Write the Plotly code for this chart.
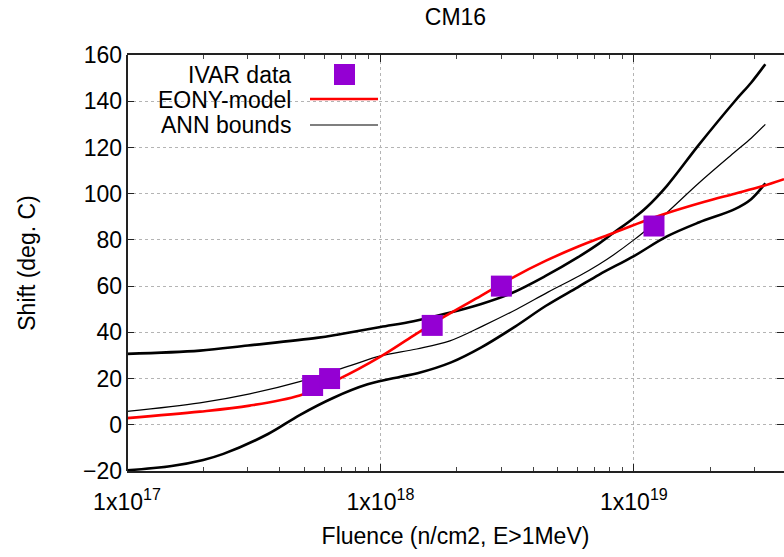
import plotly.graph_objects as go
import numpy as np

# ---- data ----
ivar_fluence = [5.4e17, 6.3e17, 1.6e18, 3.0e18, 1.2e19]
ivar_shift = [17, 20, 43, 60, 86]

eony_fluence = [1e17, 1.94e17, 3.05e17, 4.8e17, 6.9e17, 1e18, 1.35e18, 1.8e18, 2.5e18, 3.3e18,
                4.5e18, 6e18, 8.3e18, 1.12e19, 1.3e19, 1.9e19, 2.5e19, 3.2e19, 3.91e19]
eony_shift = [2.9, 5.7, 8.3, 12.7, 20.0, 29.5, 38.6, 47.0, 55.9, 63.5,
              71.0, 77.0, 83.0, 88.5, 91.0, 96.5, 100.0, 103.2, 106.3]

upper_fluence = [1e17, 1.94e17, 3e17, 5.6e17, 7e17, 1e18, 1.35e18, 1.8e18, 2.5e18, 3.3e18, 4.5e18,
                 6e18, 7.3e18, 8.3e18, 1e19, 1.12e19, 1.35e19, 1.8e19, 2.5e19, 2.9e19, 3.3e19]
ann_upper = [30.7, 32.1, 34.3, 37.6, 39.3, 42.3, 44.8, 48.0, 52.3, 57.0, 64.5,
             72.4, 78.5, 83.0, 89.5, 94.0, 103.4, 121.0, 140.0, 148.0, 156.0]

mid_fluence = [1e17, 1.94e17, 3.05e17, 4.8e17, 7.6e17, 1e18, 1.39e18, 1.88e18, 2.54e18, 3.45e18, 4.6e18,
               6.1e18, 7.3e18, 8.3e18, 1e19, 1.2e19, 1.35e19, 1.8e19, 2.5e19, 2.9e19, 3.3e19]
ann_mid = [5.8, 9.5, 13.4, 18.7, 25.6, 29.8, 32.8, 36.3, 42.8, 50.0, 57.5,
           64.5, 69.5, 73.5, 80.0, 87.0, 91.8, 104.5, 118.0, 124.0, 130.0]

lower_fluence = [1e17, 1.5e17, 2e17, 2.4e17, 3.6e17, 4.8e17, 6.5e17, 8.9e17, 1.2e18, 1.4e18, 1.9e18,
                 2.5e18, 3.4e18, 4.5e18, 6e18, 7.3e18, 1e19, 1.35e19, 1.8e19, 2.5e19, 2.9e19, 3.3e19]
ann_lower = [-19.7, -17.8, -15.2, -12.6, -4.0, 4.2, 11.6, 17.5, 20.8, 22.3, 27.0,
             33.5, 42.5, 51.5, 59.5, 65.0, 73.0, 81.5, 87.5, 93.3, 97.6, 104.5]

x_major = [1e17, 1e18, 1e19]
x_major_text = ["1x10<sup>17</sup>", "1x10<sup>18</sup>", "1x10<sup>19</sup>"]
x_minor = [m * 10.0 ** e for e in (17, 18, 19) for m in range(2, 10)]
y_ticks = [-20, 0, 20, 40, 60, 80, 100, 120, 140, 160]

FONT = "Liberation Sans, Arial, sans-serif"

fig = go.Figure()
fig.add_trace(go.Scatter(x=upper_fluence, y=ann_upper, mode="lines", line=dict(color="black", width=2.6, shape="spline"), showlegend=False))
fig.add_trace(go.Scatter(x=lower_fluence, y=ann_lower, mode="lines", line=dict(color="black", width=2.6, shape="spline"), showlegend=False))
fig.add_trace(go.Scatter(x=mid_fluence, y=ann_mid, mode="lines", line=dict(color="black", width=1.2, shape="spline"), showlegend=False))
fig.add_trace(go.Scatter(x=eony_fluence, y=eony_shift, mode="lines", line=dict(color="#ff0000", width=2.6, shape="spline"), showlegend=False))
fig.add_trace(go.Scatter(x=ivar_fluence, y=ivar_shift, mode="markers",
                         marker=dict(symbol="square", size=21, color="#9400d3", line=dict(width=0)), showlegend=False))

# layout geometry (pixels)
W, H = 784, 557
L, R, T, B = 127, 0, 55, 86
pw, ph = W - L - R, H - T - B
def px(xp):
    return (xp - L) / pw
def py(yp):
    return (H - B - yp) / ph

# manual gnuplot-style key
key_items = [("IVAR data", 75), ("EONY-model", 100), ("ANN bounds", 125)]
for txt, yy in key_items:
    fig.add_annotation(x=px(293), y=py(yy), xref="paper", yref="paper", text=txt, showarrow=False,
                       xanchor="right", yanchor="middle", font=dict(family=FONT, size=23, color="black"))
fig.add_shape(type="rect", xref="paper", yref="paper", x0=px(334), x1=px(355), y0=py(85), y1=py(64),
              fillcolor="#9400d3", line=dict(width=0))
fig.add_shape(type="line", xref="paper", yref="paper", x0=px(310), x1=px(378), y0=py(99), y1=py(99),
              line=dict(color="#ff0000", width=2.6))
fig.add_shape(type="line", xref="paper", yref="paper", x0=px(310), x1=px(378), y0=py(125), y1=py(125),
              line=dict(color="black", width=1.2))
# left border
fig.add_shape(type="line", xref="paper", yref="paper", x0=0, x1=0, y0=0, y1=1,
              line=dict(color="#222222", width=2))

fig.update_layout(
    width=W, height=H,
    margin=dict(l=L, r=R, t=T, b=B),
    paper_bgcolor="white", plot_bgcolor="white",
    font=dict(family=FONT, size=23, color="black"),
    title=dict(text="CM16", x=0.5, xref="paper", y=1 - 17 / H, yanchor="middle",
               font=dict(family=FONT, size=23, color="black")),
    xaxis=dict(type="log", range=[17, np.log10(3.91e19)],
               tickvals=x_major, ticktext=x_major_text,
               ticks="inside", ticklen=7, tickwidth=1, tickcolor="#222222",
               showline=True, linecolor="#222222", linewidth=2, mirror="ticks",
               showgrid=True, gridcolor="#b4b4b4", griddash="dot", gridwidth=1,
               minor=dict(tickvals=x_minor, ticks="inside", ticklen=4, tickcolor="#444444", showgrid=False),
               zeroline=False, tickfont=dict(size=23), ticklabelstandoff=9,
               title=dict(text="Fluence (n/cm2, E>1MeV)", font=dict(size=23), standoff=14)),
    yaxis=dict(range=[-20, 160], tickvals=y_ticks,
               ticks="inside", ticklen=7, tickwidth=1, tickcolor="#222222",
               showline=False, mirror="ticks",
               showgrid=True, gridcolor="#b4b4b4", griddash="dot", gridwidth=1,
               zeroline=False, tickfont=dict(size=23), ticklabelstandoff=4,
               title=dict(text="Shift (deg. C)", font=dict(size=23), standoff=40)),
)

fig.write_html("out.html")
